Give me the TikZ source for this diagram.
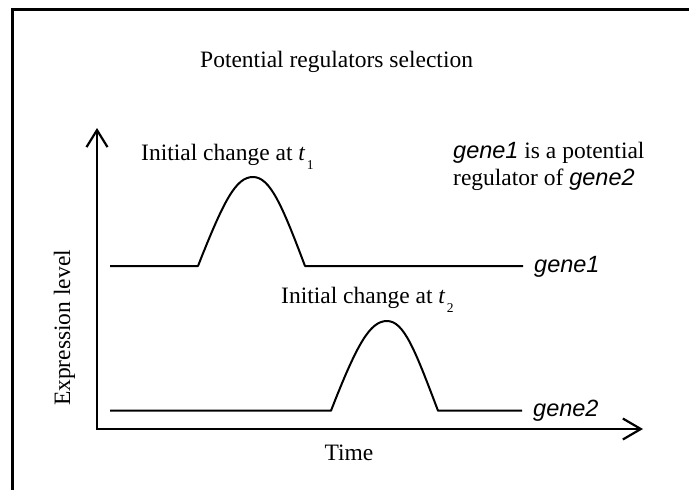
\documentclass[tikz,border=0pt]{standalone}
\usepackage{fontspec}
\setmainfont{Liberation Serif}
\newfontfamily\arialf{Liberation Sans}
\usetikzlibrary{arrows.meta}
\tikzset{
  lbl/.style={inner sep=0pt, font=\fontsize{23.5}{27}\selectfont},
  curve/.style={line width=2pt, line join=round},
  axis/.style={line width=2.2pt, line join=miter},
  frameline/.style={line width=3.2pt},
}
\newcommand{\gn}[1]{{\arialf\itshape #1}}
\newcommand{\tsub}[1]{\textit{t}\hspace{1.5pt}\raisebox{-9pt}{\fontsize{13.5}{14}\selectfont #1}}
\begin{document}
\begin{tikzpicture}[x=1pt,y=-1pt]
\useasboundingbox (0,0) rectangle (689,490);
% frame (partly cut off)
\coordinate (fbl) at (12.7,492);
\coordinate (ftl) at (12.7,9.3);
\coordinate (ftr) at (691,9.3);
\draw[frameline] (fbl) -- (ftl) -- (ftr);
% axes
\coordinate (O) at (97,429);
\coordinate (ytip) at (97,128);
\coordinate (xtip) at (643,429);
\draw[axis, arrows={Straight Barb[length=17pt,width=21pt]-Straight Barb[length=18pt,width=21pt]}] (ytip) -- (O) -- (xtip);
% gene1 curve
\coordinate (g1s) at (110,266);
\coordinate (g1a) at (198,266);
\coordinate (g1p) at (253,177);
\coordinate (g1b) at (305,266);
\coordinate (g1e) at (523,266);
\draw[curve] (g1s) -- (g1a) .. controls (224,200) and (236,177) .. (g1p)
  .. controls (270,177) and (282,205) .. (g1b) -- (g1e);
% gene2 curve
\coordinate (g2s) at (110,410.7);
\coordinate (g2a) at (331,410.7);
\coordinate (g2p) at (387,321);
\coordinate (g2b) at (438,410.7);
\coordinate (g2e) at (522,410.7);
\draw[curve] (g2s) -- (g2a) .. controls (357,344) and (370,321) .. (g2p)
  .. controls (404,321) and (415,350) .. (g2b) -- (g2e);
% texts
\node[lbl, anchor=base west] (title) at (200,67) {Potential regulators selection};
\node[lbl, anchor=base west] (ic1) at (141,160) {Initial change at \tsub{1}};
\node[lbl, anchor=base west] (ic2) at (281,303) {Initial change at \tsub{2}};
\node[lbl, anchor=base west] (note1) at (453,158) {\gn{gene1} is a potential};
\node[lbl, anchor=base west] (note2) at (453,185) {regulator of \gn{gene2}};
\node[lbl, anchor=base west] (lab1) at (534,272) {\gn{gene1}};
\node[lbl, anchor=base west] (lab2) at (533,416) {\gn{gene2}};
\node[lbl, anchor=base] (xlab) at (349,460) {Time};
\node[lbl, anchor=base, rotate=90] (ylab) at (70,328) {Expression level};
\end{tikzpicture}
\end{document}
